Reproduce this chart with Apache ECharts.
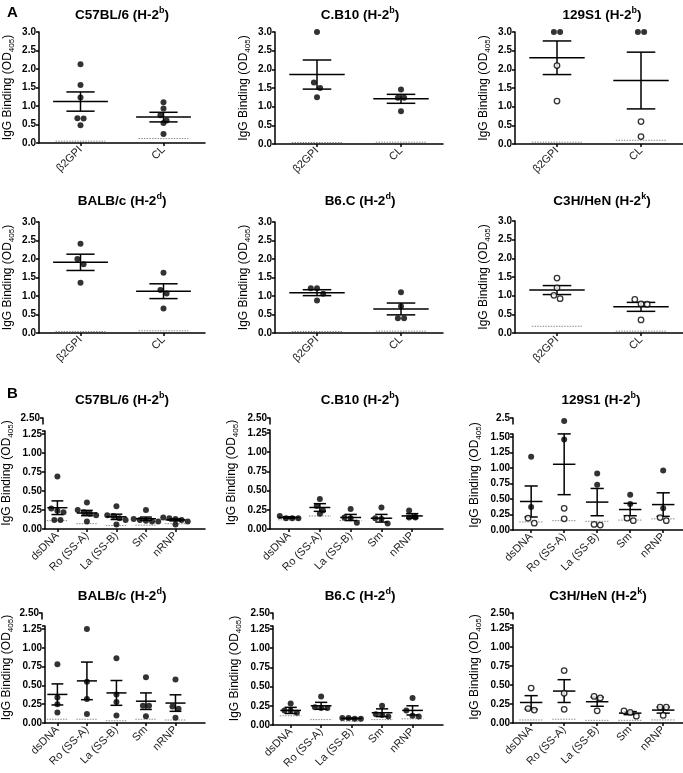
<!DOCTYPE html>
<html><head><meta charset="utf-8">
<script src="https://cdn.jsdelivr.net/npm/echarts@6/dist/echarts.min.js"></script>
<style>html,body{margin:0;padding:0;background:#fff}#c{width:683px;height:773px}</style>
</head><body><div id="c"></div>
<script>
// ---------- categories & labels ----------
const catsA = ['β2GPI', 'CL'];
const catsB = ['dsDNA', 'Ro (SS-A)', 'La (SS-B)', 'Sm', 'nRNP'];
const strains = ['C57BL/6', 'C.B10', '129S1', 'BALB/c', 'B6.C', 'C3H/HeN'];
const haplo = ['b', 'b', 'b', 'd', 'd', 'k'];
const yTicksA = [0, 0.5, 1.0, 1.5, 2.0, 2.5, 3.0];
const yTicksB = [0, 0.25, 0.5, 0.75, 1.0, 1.25];
const yTicksB129 = [0, 0.25, 0.5, 0.75, 1.0, 1.25, 1.5];

// ---------- Panel A data (per category: β2GPI, CL) ----------
const aC57Filled = [[2.13, 1.57, 1.23, 0.67, 0.66, 0.48], [1.10, 0.93, 0.75, 0.61, 0.54, 0.24]];
const aC57Open = [[], []];
const aC57Mean = [1.12, 0.70];
const aC57Sem = [0.26, 0.13];
const aC57Base = [0.05, 0.12];

const aCB10Filled = [[3.0, 1.65, 1.50, 1.25], [1.46, 1.24, 1.24, 0.88]];
const aCB10Open = [[], []];
const aCB10Mean = [1.86, 1.21];
const aCB10Sem = [0.39, 0.12];
const aCB10Base = [0.04, 0.05];

const a129Filled = [[3.0, 3.0], [3.0, 3.0]];
const a129Open = [[2.10, 1.15], [0.60, 0.20]];
const a129Mean = [2.31, 1.70];
const a129Sem = [0.45, 0.76];
const a129Base = [0.05, 0.10];

const aBALBFilled = [[2.41, 2.00, 1.86, 1.36], [1.63, 1.16, 1.07, 0.66]];
const aBALBOpen = [[], []];
const aBALBMean = [1.91, 1.13];
const aBALBSem = [0.22, 0.20];
const aBALBBase = [0.04, 0.06];

const aB6CFilled = [[1.21, 1.21, 1.06, 0.88], [1.10, 0.72, 0.40, 0.40]];
const aB6COpen = [[], []];
const aB6CMean = [1.09, 0.65];
const aB6CSem = [0.08, 0.16];
const aB6CBase = [0.04, 0.05];

const aC3HFilled = [[], []];
const aC3HOpen = [[1.47, 1.21, 1.01, 0.92], [0.90, 0.78, 0.77, 0.35]];
const aC3HMean = [1.15, 0.70];
const aC3HSem = [0.12, 0.12];
const aC3HBase = [0.18, 0.05];

// ---------- Panel B data (dsDNA, Ro, La, Sm, nRNP) ----------
const bC57Filled = [[0.69, 0.27, 0.24, 0.22, 0.12, 0.12], [0.35, 0.25, 0.22, 0.20, 0.18, 0.10], [0.30, 0.18, 0.17, 0.14, 0.12, 0.06], [0.25, 0.13, 0.12, 0.11, 0.10, 0.10], [0.15, 0.14, 0.13, 0.12, 0.10, 0.06]];
const bC57Open = [[], [], [], [], []];
const bC57Mean = [0.28, 0.21, 0.16, 0.135, 0.12];
const bC57Sem = [0.09, 0.035, 0.035, 0.022, 0.013];
const bC57Base = [0.11, 0.07, 0.045, 0.05, 0.07];

const bCB10Filled = [[0.17, 0.14, 0.14, 0.14], [0.39, 0.30, 0.24, 0.20], [0.26, 0.14, 0.15, 0.08], [0.28, 0.14, 0.13, 0.07], [0.24, 0.16, 0.15, 0.15]];
const bCB10Open = [[], [], [], [], []];
const bCB10Mean = [0.15, 0.28, 0.15, 0.14, 0.17];
const bCB10Sem = [0.01, 0.05, 0.04, 0.05, 0.03];
const bCB10Base = [0.12, 0.17, 0.11, 0.14, 0.17];

const b129Filled = [[1.18, 0.37], [2.25, 1.46], [0.91, 0.73], [0.57, 0.42], [0.96, 0.35]];
const b129Open = [[0.19, 0.11], [0.35, 0.18], [0.09, 0.08], [0.19, 0.15], [0.20, 0.15]];
const b129Mean = [0.46, 1.06, 0.45, 0.33, 0.41];
const b129Sem = [0.25, 0.49, 0.22, 0.10, 0.19];
const b129Base = [0.13, 0.15, 0.14, 0.16, 0.18];

const bBALBFilled = [[0.78, 0.34, 0.25, 0.14], [1.25, 0.55, 0.32, 0.12], [0.86, 0.38, 0.28, 0.10], [0.61, 0.23, 0.23, 0.09], [0.58, 0.22, 0.19, 0.07]];
const bBALBOpen = [[], [], [], [], []];
const bBALBMean = [0.38, 0.56, 0.40, 0.29, 0.265];
const bBALBSem = [0.14, 0.25, 0.165, 0.11, 0.11];
const bBALBBase = [0.05, 0.05, 0.03, 0.05, 0.04];

const bB6CFilled = [[0.28, 0.19, 0.19, 0.16], [0.37, 0.23, 0.22, 0.22], [0.09, 0.09, 0.08, 0.08], [0.25, 0.14, 0.13, 0.11], [0.35, 0.19, 0.12, 0.11]];
const bB6COpen = [[], [], [], [], []];
const bB6CMean = [0.19, 0.25, 0.085, 0.16, 0.19];
const bB6CSem = [0.04, 0.045, 0.005, 0.05, 0.06];
const bB6CBase = [0.12, 0.07, 0.05, 0.07, 0.08];

const bC3HFilled = [[], [], [], [], []];
const bC3HOpen = [[0.46, 0.19, 0.17], [0.69, 0.39, 0.18], [0.35, 0.33, 0.16], [0.16, 0.14, 0.09], [0.21, 0.21, 0.10]];
const bC3HMean = [0.27, 0.42, 0.28, 0.13, 0.17];
const bC3HSem = [0.09, 0.15, 0.06, 0.02, 0.04];
const bC3HBase = [0.04, 0.05, 0.035, 0.035, 0.04];

// ---------- layout (pixels / axis extents) ----------
const FONT = '"Liberation Sans", Arial, sans-serif';
const layoutA = [
  {l: 39, r: 205, t: 32, b: 143, cx: 122, ty: 15},
  {l: 275, r: 443, t: 32, b: 144, cx: 360, ty: 15},
  {l: 515, r: 683, t: 32, b: 144, cx: 602, ty: 15},
  {l: 39, r: 205, t: 222, b: 333, cx: 122, ty: 201},
  {l: 275, r: 443, t: 222, b: 333, cx: 360, ty: 201},
  {l: 515, r: 683, t: 221, b: 333, cx: 602, ty: 201}
];
const layoutB = [
  {l: 43, r: 205, y0: 529, yTop: 434, up: 418, cx: 122, ty: 400, xMin: -0.42, xMax: 5.0},
  {l: 270, r: 443, y0: 529, yTop: 433, up: 418, cx: 360, ty: 400, xMin: -0.62, xMax: 5.0},
  {l: 513, r: 683, y0: 530, yTop: 437, up: 418, cx: 601, ty: 400, xMin: -0.55, xMax: 4.6},
  {l: 42, r: 205, y0: 723, yTop: 629, up: 613, cx: 122, ty: 596, xMin: -0.42, xMax: 5.0},
  {l: 273, r: 443, y0: 725, yTop: 629, up: 613, cx: 360, ty: 596, xMin: -0.58, xMax: 5.0},
  {l: 513, r: 683, y0: 723, yTop: 628, up: 613, cx: 598, ty: 596, xMin: -0.55, xMax: 4.6}
];

const option = {
  animation: false, backgroundColor: '#fff',
  textStyle: {fontFamily: FONT},
  title: [], grid: [], xAxis: [], yAxis: [], series: []
};

option.title.push({text: 'A', left: 2, top: 0, textStyle: {fontSize: 15, fontWeight: 'bold', color: '#000', fontFamily: FONT}});
option.title.push({text: 'B', left: 2, top: 381, textStyle: {fontSize: 15, fontWeight: 'bold', color: '#000', fontFamily: FONT}});

function addTitle(name, sup, cx, cy) {
  option.title.push({
    text: '{m|' + name + ' (H-2}{s|' + sup + '}{m|)}',
    left: cx, top: cy - 9, textAlign: 'center', padding: 0,
    textStyle: {rich: {
      m: {fontSize: 13.5, fontWeight: 'bold', color: '#000', fontFamily: FONT, lineHeight: 18},
      s: {fontSize: 9, fontWeight: 'bold', color: '#000', fontFamily: FONT, lineHeight: 12, verticalAlign: 'top'}
    }}
  });
}

const axisLineStyle = {color: '#000', width: 1.5};
const yName = '{n|IgG Binding (OD}{b|405}{n|)}';
const yNameStyle = {rich: {
  n: {fontSize: 12, color: '#000', fontFamily: FONT, lineHeight: 16},
  b: {fontSize: 8, color: '#000', fontFamily: FONT, lineHeight: 10, verticalAlign: 'bottom'}
}};

function swarm(vals, pxY, pxX, d) {
  const idx = vals.map((v, i) => i).sort((a, b) => vals[b] - vals[a]);
  const off = new Array(vals.length).fill(0);
  let row = [];
  const flush = () => { const n = row.length; row.forEach((k, j) => { off[k] = (j - (n - 1) / 2) * d / pxX; }); row = []; };
  idx.forEach(k => {
    if (row.length && (vals[row[0]] - vals[k]) * pxY >= d) flush();
    row.push(k);
  });
  flush();
  return off;
}

function summaryRender(mHalf, cHalf, bHalf) {
  return function (params, api) {
    const x = api.value(0), m = api.value(1), s = api.value(2), b = api.value(3);
    const c = api.coord([x, m]);
    const unit = api.size([1, 0])[0];
    const yt = api.coord([x, m + s])[1], yb = api.coord([x, m - s])[1];
    const by = api.coord([x, b])[1];
    const st = {stroke: '#000', lineWidth: 1.5};
    return {type: 'group', children: [
      {type: 'line', shape: {x1: c[0] - unit * bHalf, y1: by, x2: c[0] + unit * bHalf, y2: by}, style: {stroke: '#8a8a8a', lineWidth: 1, lineDash: [1.5, 1.2]}},
      {type: 'line', shape: {x1: c[0] - unit * mHalf, y1: c[1], x2: c[0] + unit * mHalf, y2: c[1]}, style: st},
      {type: 'line', shape: {x1: c[0], y1: yt, x2: c[0], y2: yb}, style: st},
      {type: 'line', shape: {x1: c[0] - unit * cHalf, y1: yt, x2: c[0] + unit * cHalf, y2: yt}, style: st},
      {type: 'line', shape: {x1: c[0] - unit * cHalf, y1: yb, x2: c[0] + unit * cHalf, y2: yb}, style: st}
    ]};
  };
}

// points split into grids by value range
function pointSeries(filled, open, xIdx, yIdx, pxY, pxX, inRange) {
  const fData = [], oData = [];
  filled.forEach((f, i) => {
    const o = open[i];
    const all = f.concat(o);
    const off = swarm(all, pxY, pxX, 6.2);
    all.forEach((v, k) => {
      if (!inRange(v)) return;
      (k < f.length ? fData : oData).push([i + off[k], v]);
    });
  });
  return [
    {type: 'scatter', xAxisIndex: xIdx, yAxisIndex: yIdx, data: fData, symbol: 'circle', symbolSize: 6, clip: false, z: 5,
      itemStyle: {color: '#000'}},
    {type: 'scatter', xAxisIndex: xIdx, yAxisIndex: yIdx, data: oData, symbol: 'circle', symbolSize: 5.5, clip: false, z: 5,
      itemStyle: {color: '#fff', borderColor: '#000', borderWidth: 1.3}}
  ];
}

function addPanelA(p, filled, open, mean, sem, base) {
  const L = layoutA[p];
  const g = option.grid.length;
  option.grid.push({left: L.l, top: L.t, width: L.r - L.l, height: L.b - L.t});
  option.xAxis.push({
    gridIndex: g, type: 'value', min: -0.5, max: 1.5,
    axisLine: {show: true, onZero: false, lineStyle: axisLineStyle},
    axisTick: {show: true, customValues: [0, 1], length: 3, lineStyle: axisLineStyle},
    axisLabel: {customValues: [0, 1], formatter: v => catsA[Math.round(v)], rotate: 45, fontSize: 11, color: '#222', margin: 5, fontFamily: FONT},
    splitLine: {show: false}
  });
  option.yAxis.push({
    gridIndex: g, type: 'value', min: 0, max: 3,
    axisLine: {show: true, onZero: false, lineStyle: axisLineStyle},
    axisTick: {show: true, customValues: yTicksA, length: 3, lineStyle: axisLineStyle},
    axisLabel: {customValues: yTicksA, formatter: v => v.toFixed(1), fontSize: 10, fontWeight: 'bold', color: '#000', margin: 3, fontFamily: FONT},
    splitLine: {show: false},
    name: yName, nameLocation: 'middle', nameGap: 23, nameRotate: 90, nameTextStyle: yNameStyle
  });
  addTitle(strains[p], haplo[p], L.cx, L.ty);
  const pxY = (L.b - L.t) / 3, pxX = (L.r - L.l) / 2;
  option.series.push(...pointSeries(filled, open, g, g, pxY, pxX, () => true));
  option.series.push({type: 'custom', xAxisIndex: g, yAxisIndex: g, clip: false, z: 4,
    renderItem: summaryRender(0.33, 0.17, 0.30),
    data: mean.map((m, i) => [i, m, sem[i], base[i]])});
}

function addPanelB(p, filled, open, mean, sem, base, ticks, upLabel) {
  const L = layoutB[p];
  const topVal = ticks[ticks.length - 1];
  const gTop = L.yTop - 3;
  const lowMax = topVal * (L.y0 - gTop) / (L.y0 - L.yTop);
  const xMin = L.xMin, xMax = L.xMax;
  const g = option.grid.length;
  option.grid.push({left: L.l, top: gTop, width: L.r - L.l, height: L.y0 - gTop});
  option.grid.push({left: L.l, top: L.up, width: L.r - L.l, height: 6});
  option.xAxis.push({
    gridIndex: g, type: 'value', min: xMin, max: xMax,
    axisLine: {show: true, onZero: false, lineStyle: axisLineStyle},
    axisTick: {show: true, customValues: [0, 1, 2, 3, 4], length: 3, lineStyle: axisLineStyle},
    axisLabel: {customValues: [0, 1, 2, 3, 4], formatter: v => catsB[Math.round(v)], rotate: 45, fontSize: 11, color: '#222', margin: 5, fontFamily: FONT},
    splitLine: {show: false}
  });
  option.xAxis.push({gridIndex: g + 1, type: 'value', min: xMin, max: xMax, show: false});
  option.yAxis.push({
    gridIndex: g, type: 'value', min: 0, max: lowMax,
    axisLine: {show: true, onZero: false, lineStyle: axisLineStyle},
    axisTick: {show: true, customValues: ticks.concat([lowMax]), length: 3, lineStyle: axisLineStyle},
    axisLabel: {customValues: ticks, formatter: v => v.toFixed(2), fontSize: 10, fontWeight: 'bold', color: '#000', margin: 3, fontFamily: FONT},
    splitLine: {show: false},
    name: yName, nameLocation: 'middle', nameGap: 30, nameRotate: 90, nameTextStyle: Object.assign({padding: [0, 0, 0, 14]}, yNameStyle)
  });
  option.yAxis.push({
    gridIndex: g + 1, type: 'value', min: 2.0, max: 2.5,
    axisLine: {show: true, onZero: false, lineStyle: axisLineStyle},
    axisTick: {show: true, customValues: [2.5], length: 3, lineStyle: axisLineStyle},
    axisLabel: {customValues: [2.5], formatter: () => upLabel, fontSize: 10, fontWeight: 'bold', color: '#000', margin: 3, fontFamily: FONT},
    splitLine: {show: false}
  });
  addTitle(strains[p], haplo[p], L.cx, L.ty);
  const pxY = (L.y0 - gTop) / lowMax, pxX = (L.r - L.l) / (xMax - xMin);
  option.series.push(...pointSeries(filled, open, g, g, pxY, pxX, v => v <= lowMax));
  option.series.push(...pointSeries(filled, open, g + 1, g + 1, pxY, pxX, v => v > lowMax));
  option.series.push({type: 'custom', xAxisIndex: g, yAxisIndex: g, clip: false, z: 4,
    renderItem: summaryRender(0.34, 0.2, 0.36),
    data: mean.map((m, i) => [i, m, sem[i], base[i]])});
}

addPanelA(0, aC57Filled, aC57Open, aC57Mean, aC57Sem, aC57Base);
addPanelA(1, aCB10Filled, aCB10Open, aCB10Mean, aCB10Sem, aCB10Base);
addPanelA(2, a129Filled, a129Open, a129Mean, a129Sem, a129Base);
addPanelA(3, aBALBFilled, aBALBOpen, aBALBMean, aBALBSem, aBALBBase);
addPanelA(4, aB6CFilled, aB6COpen, aB6CMean, aB6CSem, aB6CBase);
addPanelA(5, aC3HFilled, aC3HOpen, aC3HMean, aC3HSem, aC3HBase);

addPanelB(0, bC57Filled, bC57Open, bC57Mean, bC57Sem, bC57Base, yTicksB, '2.50');
addPanelB(1, bCB10Filled, bCB10Open, bCB10Mean, bCB10Sem, bCB10Base, yTicksB, '2.50');
addPanelB(2, b129Filled, b129Open, b129Mean, b129Sem, b129Base, yTicksB129, '2.5');
addPanelB(3, bBALBFilled, bBALBOpen, bBALBMean, bBALBSem, bBALBBase, yTicksB, '2.50');
addPanelB(4, bB6CFilled, bB6COpen, bB6CMean, bB6CSem, bB6CBase, yTicksB, '2.50');
addPanelB(5, bC3HFilled, bC3HOpen, bC3HMean, bC3HSem, bC3HBase, yTicksB, '2.50');

const chart = echarts.init(document.getElementById('c'), null, {renderer: 'canvas'});
chart.setOption(option);
</script>
</body></html>
